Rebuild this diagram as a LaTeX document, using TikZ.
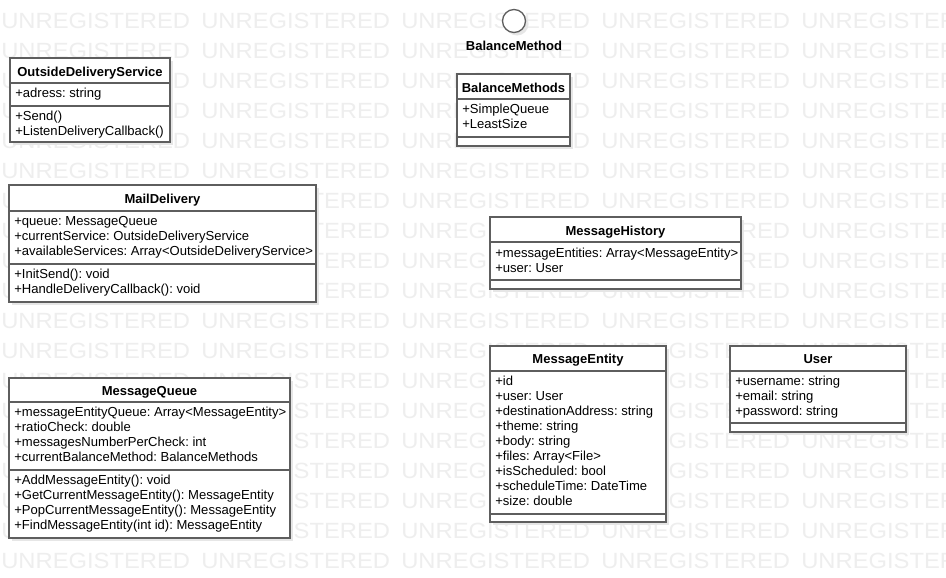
\documentclass[tikz,border=0pt]{standalone}
\usepackage{fontspec}
\setmainfont{Liberation Sans}
\frenchspacing
\definecolor{wmc}{HTML}{EEEEEE}
\definecolor{linec}{HTML}{5E5E5E}
\definecolor{shc}{HTML}{E6E6E6}
\begin{document}
\begin{tikzpicture}[x=0.75pt,y=-0.75pt,
  wm/.style={anchor=base west, inner sep=0pt, text=wmc, font=\fontsize{16.5}{16.5}\selectfont, xscale=1.08},
  hdr/.style={anchor=base, inner sep=0pt, font=\fontsize{9.75}{11}\selectfont\bfseries},
  ln/.style={anchor=base west, inner sep=0pt, font=\fontsize{9.8}{11}\selectfont},
  boxline/.style={draw=linec, line width=1pt},
  shadowfill/.style={fill=shc}]
\useasboundingbox (0,0) rectangle (946,578);
\clip (0,0) rectangle (946,578);
\fill[white] (0,0) rectangle (946,578);
% watermark
\foreach \r in {0,...,18}{
  \foreach \c in {0,...,4}{
    \node[wm] (wm-\r-\c) at (1+200*\c, 28.5+30*\r) {UNREGISTERED};
  }
}
% class box macro: left, top, right, bottom
\newcommand{\umlbox}[4]{%
  \fill[shadowfill] (#1+3,#2+3) rectangle (#3+3,#4+3);
  \draw[boxline, fill=white] (#1,#2) rectangle (#3,#4);}
\newcommand{\umldiv}[3]{\draw[boxline] (#1,#2) -- (#3,#2);}

% OutsideDeliveryService
\umlbox{10}{58}{170}{142}
\umldiv{10}{83}{170}
\umldiv{10}{106}{170}
\node[hdr] (ods) at (90,76) {OutsideDeliveryService};
\node[ln] (ods-a1) at (15,97.5) {+adress: string};
\node[ln] (ods-m1) at (15,120) {+Send()};
\node[ln] (ods-m2) at (15,135) {+ListenDeliveryCallback()};

% BalanceMethod interface
\fill[shadowfill] (517,24) circle (11.5);
\draw[boxline, fill=white] (514,21) circle (11.5);
\node[hdr] (bm) at (514,50) {BalanceMethod};

% BalanceMethods
\umlbox{457}{74}{570}{146}
\umldiv{457}{99}{570}
\umldiv{457}{137}{570}
\node[hdr] (bms) at (513.5,92) {BalanceMethods};
\node[ln] (bms-a1) at (462,113.5) {+SimpleQueue};
\node[ln] (bms-a2) at (462,128.5) {+LeastSize};

% MailDelivery
\umlbox{9}{185}{316}{302}
\umldiv{9}{211}{316}
\umldiv{9}{264}{316}
\node[hdr] (md) at (162.5,203) {MailDelivery};
\node[ln] (md-a1) at (14,225.5) {+queue: MessageQueue};
\node[ln] (md-a2) at (14,240.5) {+currentService: OutsideDeliveryService};
\node[ln] (md-a3) at (14,255.5) {+availableServices: Array<OutsideDeliveryService>};
\node[ln] (md-m1) at (14,278.5) {+InitSend(): void};
\node[ln] (md-m2) at (14,293.5) {+HandleDeliveryCallback(): void};

% MessageHistory
\umlbox{490}{217}{741}{289}
\umldiv{490}{242}{741}
\umldiv{490}{280}{741}
\node[hdr] (mh) at (615.5,235) {MessageHistory};
\node[ln] (mh-a1) at (495,257) {+messageEntities: Array<MessageEntity>};
\node[ln] (mh-a2) at (495,272) {+user: User};

% MessageQueue
\umlbox{9}{378}{290}{538}
\umldiv{9}{402}{290}
\umldiv{9}{470}{290}
\node[hdr] (mq) at (149.5,395) {MessageQueue};
\node[ln] (mq-a1) at (14,416.5) {+messageEntityQueue: Array<MessageEntity>};
\node[ln] (mq-a2) at (14,431.5) {+ratioCheck: double};
\node[ln] (mq-a3) at (14,446.5) {+messagesNumberPerCheck: int};
\node[ln] (mq-a4) at (14,461.5) {+currentBalanceMethod: BalanceMethods};
\node[ln] (mq-m1) at (14,484.5) {+AddMessageEntity(): void};
\node[ln] (mq-m2) at (14,499.5) {+GetCurrentMessageEntity(): MessageEntity};
\node[ln] (mq-m3) at (14,514.5) {+PopCurrentMessageEntity(): MessageEntity};
\node[ln] (mq-m4) at (14,529.5) {+FindMessageEntity(int id): MessageEntity};

% MessageEntity
\umlbox{490}{346}{666}{522}
\umldiv{490}{371}{666}
\umldiv{490}{514}{666}
\node[hdr] (me) at (578,363.5) {MessageEntity};
\node[ln] (me-a1) at (495,385.5) {+id};
\node[ln] (me-a2) at (495,400.5) {+user: User};
\node[ln] (me-a3) at (495,415.5) {+destinationAddress: string};
\node[ln] (me-a4) at (495,430.5) {+theme: string};
\node[ln] (me-a5) at (495,445.5) {+body: string};
\node[ln] (me-a6) at (495,460.5) {+files: Array<File>};
\node[ln] (me-a7) at (495,475.5) {+isScheduled: bool};
\node[ln] (me-a8) at (495,490.5) {+scheduleTime: DateTime};
\node[ln] (me-a9) at (495,505.5) {+size: double};

% User
\umlbox{730}{346}{906}{432}
\umldiv{730}{371}{906}
\umldiv{730}{423}{906}
\node[hdr] (us) at (818,363.5) {User};
\node[ln] (us-a1) at (735,385.5) {+username: string};
\node[ln] (us-a2) at (735,400.5) {+email: string};
\node[ln] (us-a3) at (735,415.5) {+password: string};
\end{tikzpicture}
\end{document}
